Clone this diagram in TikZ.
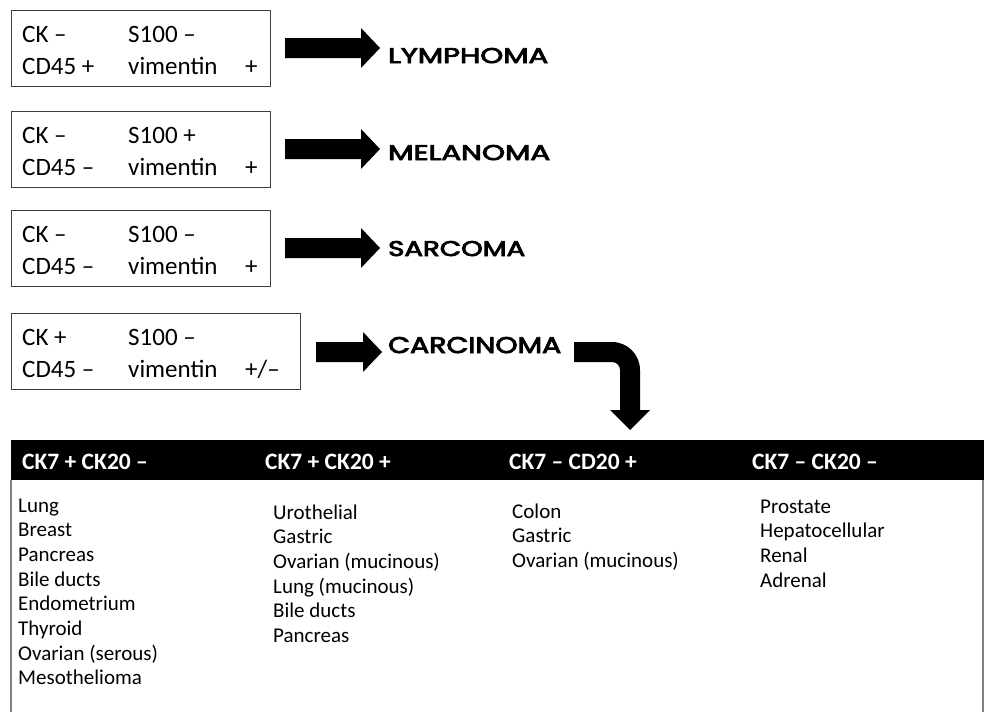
\documentclass[tikz,border=0pt]{standalone}
\usepackage{fontspec}
\setmainfont{Carlito}
\newfontfamily\dxfont{Poppins}[FakeBold=3.5]
\begin{document}
\begin{tikzpicture}[x=1pt,y=-1pt,
  mbox/.style={draw=black!75, line width=1.1pt, minimum height=76pt, inner sep=0pt, anchor=north west},
  mtxt/.style={anchor=base west, inner sep=0pt, font=\fontsize{25}{25}\selectfont},
  diag/.style={anchor=base west, inner sep=0pt},
  band/.style={fill=black, minimum width=973pt, minimum height=40pt, inner sep=0pt, anchor=north west},
  hdr/.style={anchor=base west, inner sep=0pt, text=white, font=\bfseries\fontsize{23.5}{23.5}\selectfont},
  item/.style={anchor=base west, inner sep=0pt, font=\fontsize{21}{21}\selectfont},
  frame/.style={draw=black!50, line width=1.4pt}
]
\useasboundingbox (0,0) rectangle (986,712);

\newcommand\fatarrow[3]{%
  \fill (#1,#3-10) -- (#2-19,#3-10) -- (#2-19,#3-20) -- (#2,#3) --
        (#2-19,#3+20) -- (#2-19,#3+10) -- (#1,#3+10) -- cycle;}

% marker boxes
\node[mbox, minimum width=259pt] (b1) at (11,10) {};
\node[mbox, minimum width=259pt] (b2) at (11,111) {};
\node[mbox, minimum width=259pt] (b3) at (11,210) {};
\node[mbox, minimum width=289pt] (b4) at (11,313) {};

\node[mtxt] (b1a) at (22,42) {CK –};
\node[mtxt] (b1b) at (128,42) {S100 –};
\node[mtxt] (b1c) at (22,74) {CD45 +};
\node[mtxt] (b1d) at (128,74) {vimentin};
\node[mtxt] (b1e) at (245,74) {+};

\node[mtxt] (b2a) at (22,143) {CK –};
\node[mtxt] (b2b) at (128,143) {S100 +};
\node[mtxt] (b2c) at (22,175) {CD45 –};
\node[mtxt] (b2d) at (128,175) {vimentin};
\node[mtxt] (b2e) at (245,175) {+};

\node[mtxt] (b3a) at (22,242) {CK –};
\node[mtxt] (b3b) at (128,242) {S100 –};
\node[mtxt] (b3c) at (22,274) {CD45 –};
\node[mtxt] (b3d) at (128,274) {vimentin};
\node[mtxt] (b3e) at (245,274) {+};

\node[mtxt] (b4a) at (22,345) {CK +};
\node[mtxt] (b4b) at (128,345) {S100 –};
\node[mtxt] (b4c) at (22,377) {CD45 –};
\node[mtxt] (b4d) at (128,377) {vimentin};
\node[mtxt] (b4e) at (245,377) {+/–};

% diagnoses
\node[diag] (d1) at (388,63) {\resizebox{160pt}{15pt}{\dxfont LYMPHOMA}};
\node[diag] (d2) at (388,160) {\resizebox{162pt}{15pt}{\dxfont MELANOMA}};
\node[diag] (d3) at (388,256) {\resizebox{137pt}{15pt}{\dxfont SARCOMA}};
\node[diag] (d4) at (388,353) {\resizebox{173pt}{16pt}{\dxfont CARCINOMA}};

% fat arrows
\fatarrow{285}{380}{48}
\fatarrow{285}{380}{149}
\fatarrow{285}{380}{248}
\fatarrow{316}{382}{352}

% curved arrow
\fill (574,342) -- (612,342) .. controls (627.5,342) and (640,354.5) .. (640,370)
  -- (640,410) -- (650,410) -- (630,430) -- (610,410) -- (620,410) -- (620,370)
  .. controls (620,365.6) and (616.4,362) .. (612,362) -- (574,362) -- cycle;

% table
\node[band] (band) at (11,440) {};
\draw[frame] (11,480) -- (11,712);
\draw[frame] (983,480) -- (983,712);

\node[hdr] (h1) at (22,469) {CK7 + CK20 –};
\node[hdr] (h2) at (265,469) {CK7 + CK20 +};
\node[hdr] (h3) at (509,469) {CK7 – CD20 +};
\node[hdr] (h4) at (752,469) {CK7 – CK20 –};

\foreach \t [count=\i from 0] in {Lung, Breast, Pancreas, Bile ducts, Endometrium, Thyroid, Ovarian (serous), Mesothelioma}
  \node[item] (c1-\i) at (18,{512+24.7*\i}) {\t};
\foreach \t [count=\i from 0] in {Urothelial, Gastric, Ovarian (mucinous), Lung (mucinous), Bile ducts, Pancreas}
  \node[item] (c2-\i) at (273,{519+24.7*\i}) {\t};
\foreach \t [count=\i from 0] in {Colon, Gastric, Ovarian (mucinous)}
  \node[item] (c3-\i) at (512,{518+24.7*\i}) {\t};
\foreach \t [count=\i from 0] in {Prostate, Hepatocellular, Renal, Adrenal}
  \node[item] (c4-\i) at (760,{513+24.7*\i}) {\t};
\end{tikzpicture}
\end{document}
